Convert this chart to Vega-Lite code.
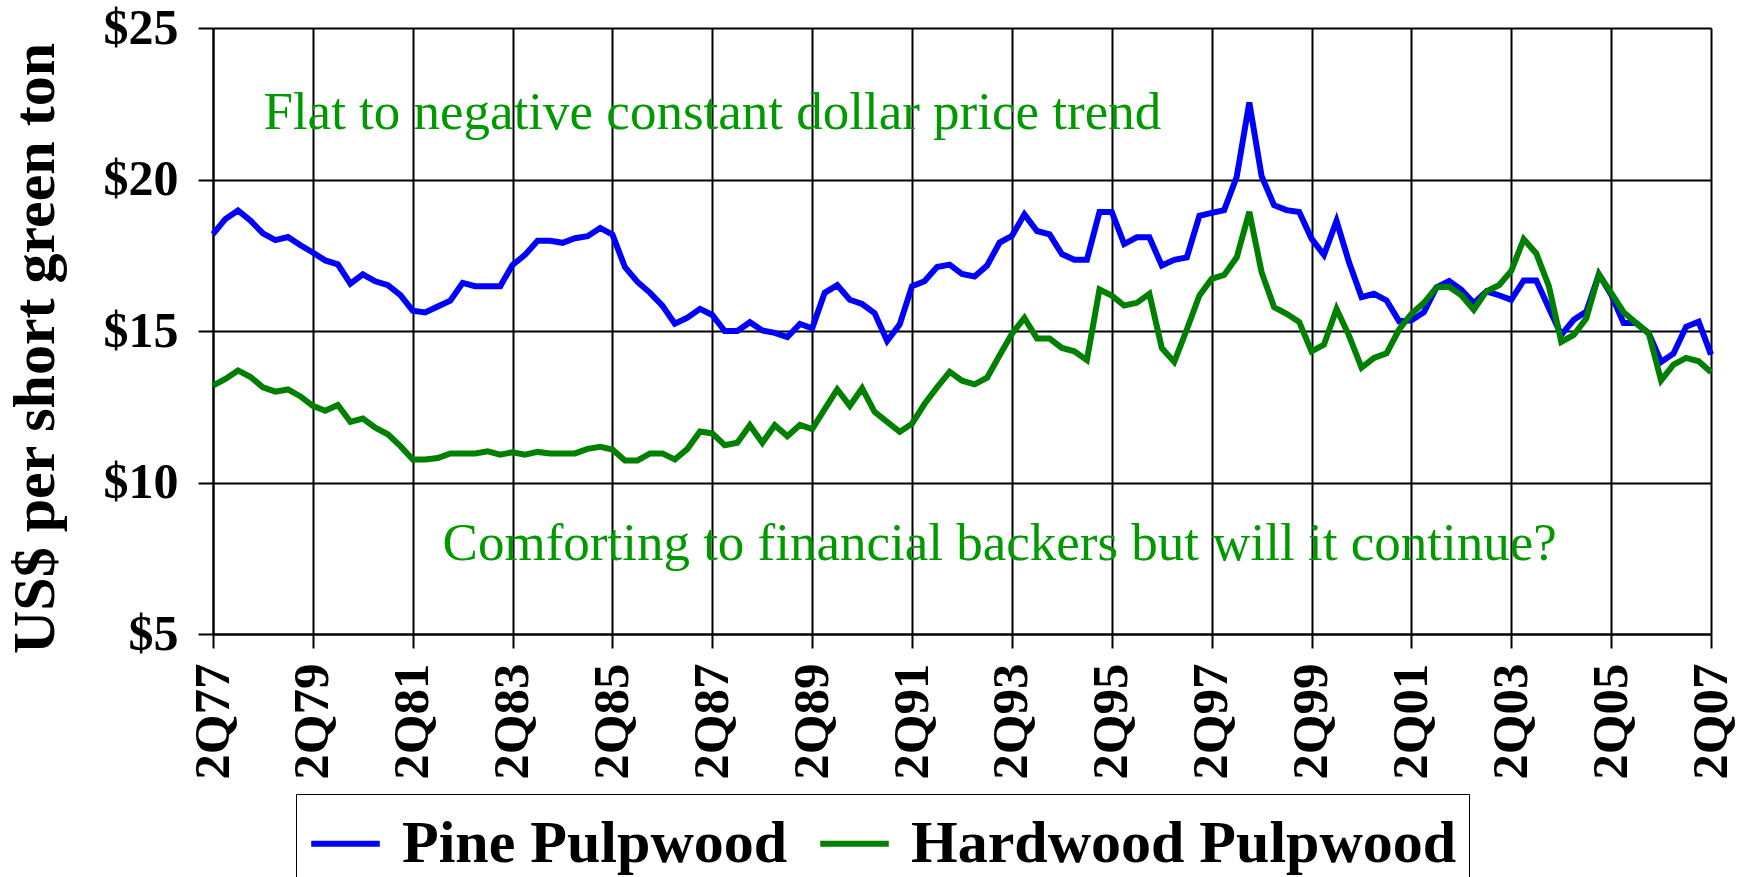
{
  "$schema": "https://vega.github.io/schema/vega-lite/v6.json",
  "width": 1498,
  "height": 606,
  "autosize": {"type": "none"},
  "padding": {"left": 213, "top": 28, "right": 28, "bottom": 243},
  "background": "white",
  "config": {
    "view": {"stroke": null},
    "font": "Liberation Serif"
  },
  "layer": [
    {
      "data": {"values": [
        {"date": "1977/04/01", "Pine Pulpwood": 18.2, "Hardwood Pulpwood": 13.2},
        {"date": "1977/07/01", "Pine Pulpwood": 18.7, "Hardwood Pulpwood": 13.42},
        {"date": "1977/10/01", "Pine Pulpwood": 18.98, "Hardwood Pulpwood": 13.7},
        {"date": "1978/01/01", "Pine Pulpwood": 18.64, "Hardwood Pulpwood": 13.48},
        {"date": "1978/04/01", "Pine Pulpwood": 18.22, "Hardwood Pulpwood": 13.14},
        {"date": "1978/07/01", "Pine Pulpwood": 18.0, "Hardwood Pulpwood": 13.0},
        {"date": "1978/10/01", "Pine Pulpwood": 18.1, "Hardwood Pulpwood": 13.07},
        {"date": "1979/01/01", "Pine Pulpwood": 17.83, "Hardwood Pulpwood": 12.84},
        {"date": "1979/04/01", "Pine Pulpwood": 17.59, "Hardwood Pulpwood": 12.53},
        {"date": "1979/07/01", "Pine Pulpwood": 17.33, "Hardwood Pulpwood": 12.37},
        {"date": "1979/10/01", "Pine Pulpwood": 17.2, "Hardwood Pulpwood": 12.56},
        {"date": "1980/01/01", "Pine Pulpwood": 16.56, "Hardwood Pulpwood": 12.0},
        {"date": "1980/04/01", "Pine Pulpwood": 16.87, "Hardwood Pulpwood": 12.11},
        {"date": "1980/07/01", "Pine Pulpwood": 16.64, "Hardwood Pulpwood": 11.81},
        {"date": "1980/10/01", "Pine Pulpwood": 16.51, "Hardwood Pulpwood": 11.59},
        {"date": "1981/01/01", "Pine Pulpwood": 16.18, "Hardwood Pulpwood": 11.2},
        {"date": "1981/04/01", "Pine Pulpwood": 15.67, "Hardwood Pulpwood": 10.76},
        {"date": "1981/07/01", "Pine Pulpwood": 15.61, "Hardwood Pulpwood": 10.76},
        {"date": "1981/10/01", "Pine Pulpwood": 15.81, "Hardwood Pulpwood": 10.81},
        {"date": "1982/01/01", "Pine Pulpwood": 16.0, "Hardwood Pulpwood": 10.96},
        {"date": "1982/04/01", "Pine Pulpwood": 16.59, "Hardwood Pulpwood": 10.96},
        {"date": "1982/07/01", "Pine Pulpwood": 16.48, "Hardwood Pulpwood": 10.96},
        {"date": "1982/10/01", "Pine Pulpwood": 16.48, "Hardwood Pulpwood": 11.03},
        {"date": "1983/01/01", "Pine Pulpwood": 16.48, "Hardwood Pulpwood": 10.92},
        {"date": "1983/04/01", "Pine Pulpwood": 17.18, "Hardwood Pulpwood": 11.0},
        {"date": "1983/07/01", "Pine Pulpwood": 17.51, "Hardwood Pulpwood": 10.92},
        {"date": "1983/10/01", "Pine Pulpwood": 17.98, "Hardwood Pulpwood": 11.01},
        {"date": "1984/01/01", "Pine Pulpwood": 17.98, "Hardwood Pulpwood": 10.96},
        {"date": "1984/04/01", "Pine Pulpwood": 17.91, "Hardwood Pulpwood": 10.96},
        {"date": "1984/07/01", "Pine Pulpwood": 18.06, "Hardwood Pulpwood": 10.96},
        {"date": "1984/10/01", "Pine Pulpwood": 18.13, "Hardwood Pulpwood": 11.11},
        {"date": "1985/01/01", "Pine Pulpwood": 18.4, "Hardwood Pulpwood": 11.18},
        {"date": "1985/04/01", "Pine Pulpwood": 18.18, "Hardwood Pulpwood": 11.09},
        {"date": "1985/07/01", "Pine Pulpwood": 17.11, "Hardwood Pulpwood": 10.73},
        {"date": "1985/10/01", "Pine Pulpwood": 16.62, "Hardwood Pulpwood": 10.73},
        {"date": "1986/01/01", "Pine Pulpwood": 16.26, "Hardwood Pulpwood": 10.96},
        {"date": "1986/04/01", "Pine Pulpwood": 15.84, "Hardwood Pulpwood": 10.96},
        {"date": "1986/07/01", "Pine Pulpwood": 15.24, "Hardwood Pulpwood": 10.76},
        {"date": "1986/10/01", "Pine Pulpwood": 15.44, "Hardwood Pulpwood": 11.11},
        {"date": "1987/01/01", "Pine Pulpwood": 15.73, "Hardwood Pulpwood": 11.68},
        {"date": "1987/04/01", "Pine Pulpwood": 15.53, "Hardwood Pulpwood": 11.62},
        {"date": "1987/07/01", "Pine Pulpwood": 15.0, "Hardwood Pulpwood": 11.23},
        {"date": "1987/10/01", "Pine Pulpwood": 15.0, "Hardwood Pulpwood": 11.31},
        {"date": "1988/01/01", "Pine Pulpwood": 15.29, "Hardwood Pulpwood": 11.89},
        {"date": "1988/04/01", "Pine Pulpwood": 15.02, "Hardwood Pulpwood": 11.31},
        {"date": "1988/07/01", "Pine Pulpwood": 14.94, "Hardwood Pulpwood": 11.89},
        {"date": "1988/10/01", "Pine Pulpwood": 14.8, "Hardwood Pulpwood": 11.53},
        {"date": "1989/01/01", "Pine Pulpwood": 15.23, "Hardwood Pulpwood": 11.9},
        {"date": "1989/04/01", "Pine Pulpwood": 15.09, "Hardwood Pulpwood": 11.76},
        {"date": "1989/07/01", "Pine Pulpwood": 16.26, "Hardwood Pulpwood": 12.42},
        {"date": "1989/10/01", "Pine Pulpwood": 16.51, "Hardwood Pulpwood": 13.07},
        {"date": "1990/01/01", "Pine Pulpwood": 16.03, "Hardwood Pulpwood": 12.53},
        {"date": "1990/04/01", "Pine Pulpwood": 15.89, "Hardwood Pulpwood": 13.11},
        {"date": "1990/07/01", "Pine Pulpwood": 15.59, "Hardwood Pulpwood": 12.33},
        {"date": "1990/10/01", "Pine Pulpwood": 14.67, "Hardwood Pulpwood": 12.0},
        {"date": "1991/01/01", "Pine Pulpwood": 15.22, "Hardwood Pulpwood": 11.67},
        {"date": "1991/04/01", "Pine Pulpwood": 16.48, "Hardwood Pulpwood": 11.94},
        {"date": "1991/07/01", "Pine Pulpwood": 16.64, "Hardwood Pulpwood": 12.59},
        {"date": "1991/10/01", "Pine Pulpwood": 17.11, "Hardwood Pulpwood": 13.14},
        {"date": "1992/01/01", "Pine Pulpwood": 17.19, "Hardwood Pulpwood": 13.65},
        {"date": "1992/04/01", "Pine Pulpwood": 16.88, "Hardwood Pulpwood": 13.36},
        {"date": "1992/07/01", "Pine Pulpwood": 16.8, "Hardwood Pulpwood": 13.24},
        {"date": "1992/10/01", "Pine Pulpwood": 17.16, "Hardwood Pulpwood": 13.46},
        {"date": "1993/01/01", "Pine Pulpwood": 17.92, "Hardwood Pulpwood": 14.2},
        {"date": "1993/04/01", "Pine Pulpwood": 18.14, "Hardwood Pulpwood": 14.91},
        {"date": "1993/07/01", "Pine Pulpwood": 18.85, "Hardwood Pulpwood": 15.43},
        {"date": "1993/10/01", "Pine Pulpwood": 18.3, "Hardwood Pulpwood": 14.75},
        {"date": "1994/01/01", "Pine Pulpwood": 18.19, "Hardwood Pulpwood": 14.75},
        {"date": "1994/04/01", "Pine Pulpwood": 17.54, "Hardwood Pulpwood": 14.44},
        {"date": "1994/07/01", "Pine Pulpwood": 17.35, "Hardwood Pulpwood": 14.33},
        {"date": "1994/10/01", "Pine Pulpwood": 17.35, "Hardwood Pulpwood": 14.04},
        {"date": "1995/01/01", "Pine Pulpwood": 18.93, "Hardwood Pulpwood": 16.37},
        {"date": "1995/04/01", "Pine Pulpwood": 18.93, "Hardwood Pulpwood": 16.17},
        {"date": "1995/07/01", "Pine Pulpwood": 17.87, "Hardwood Pulpwood": 15.84},
        {"date": "1995/10/01", "Pine Pulpwood": 18.09, "Hardwood Pulpwood": 15.93},
        {"date": "1996/01/01", "Pine Pulpwood": 18.09, "Hardwood Pulpwood": 16.23},
        {"date": "1996/04/01", "Pine Pulpwood": 17.16, "Hardwood Pulpwood": 14.44},
        {"date": "1996/07/01", "Pine Pulpwood": 17.35, "Hardwood Pulpwood": 13.98},
        {"date": "1996/10/01", "Pine Pulpwood": 17.43, "Hardwood Pulpwood": 15.05},
        {"date": "1997/01/01", "Pine Pulpwood": 18.8, "Hardwood Pulpwood": 16.17},
        {"date": "1997/04/01", "Pine Pulpwood": 18.9, "Hardwood Pulpwood": 16.72},
        {"date": "1997/07/01", "Pine Pulpwood": 18.99, "Hardwood Pulpwood": 16.85},
        {"date": "1997/10/01", "Pine Pulpwood": 20.09, "Hardwood Pulpwood": 17.43},
        {"date": "1998/01/01", "Pine Pulpwood": 22.54, "Hardwood Pulpwood": 18.93},
        {"date": "1998/04/01", "Pine Pulpwood": 20.11, "Hardwood Pulpwood": 16.94},
        {"date": "1998/07/01", "Pine Pulpwood": 19.15, "Hardwood Pulpwood": 15.79},
        {"date": "1998/10/01", "Pine Pulpwood": 18.99, "Hardwood Pulpwood": 15.57},
        {"date": "1999/01/01", "Pine Pulpwood": 18.93, "Hardwood Pulpwood": 15.3},
        {"date": "1999/04/01", "Pine Pulpwood": 18.05, "Hardwood Pulpwood": 14.33},
        {"date": "1999/07/01", "Pine Pulpwood": 17.51, "Hardwood Pulpwood": 14.55},
        {"date": "1999/10/01", "Pine Pulpwood": 18.63, "Hardwood Pulpwood": 15.73},
        {"date": "2000/01/01", "Pine Pulpwood": 17.26, "Hardwood Pulpwood": 14.84},
        {"date": "2000/04/01", "Pine Pulpwood": 16.12, "Hardwood Pulpwood": 13.79},
        {"date": "2000/07/01", "Pine Pulpwood": 16.23, "Hardwood Pulpwood": 14.11},
        {"date": "2000/10/01", "Pine Pulpwood": 16.01, "Hardwood Pulpwood": 14.26},
        {"date": "2001/01/01", "Pine Pulpwood": 15.32, "Hardwood Pulpwood": 15.05},
        {"date": "2001/04/01", "Pine Pulpwood": 15.35, "Hardwood Pulpwood": 15.57},
        {"date": "2001/07/01", "Pine Pulpwood": 15.62, "Hardwood Pulpwood": 15.93},
        {"date": "2001/10/01", "Pine Pulpwood": 16.44, "Hardwood Pulpwood": 16.44},
        {"date": "2002/01/01", "Pine Pulpwood": 16.65, "Hardwood Pulpwood": 16.46},
        {"date": "2002/04/01", "Pine Pulpwood": 16.36, "Hardwood Pulpwood": 16.18},
        {"date": "2002/07/01", "Pine Pulpwood": 15.92, "Hardwood Pulpwood": 15.7},
        {"date": "2002/10/01", "Pine Pulpwood": 16.31, "Hardwood Pulpwood": 16.31},
        {"date": "2003/01/01", "Pine Pulpwood": 16.18, "Hardwood Pulpwood": 16.51},
        {"date": "2003/04/01", "Pine Pulpwood": 16.03, "Hardwood Pulpwood": 16.98},
        {"date": "2003/07/01", "Pine Pulpwood": 16.67, "Hardwood Pulpwood": 18.03},
        {"date": "2003/10/01", "Pine Pulpwood": 16.67, "Hardwood Pulpwood": 17.56},
        {"date": "2004/01/01", "Pine Pulpwood": 15.76, "Hardwood Pulpwood": 16.48},
        {"date": "2004/04/01", "Pine Pulpwood": 14.87, "Hardwood Pulpwood": 14.64},
        {"date": "2004/07/01", "Pine Pulpwood": 15.37, "Hardwood Pulpwood": 14.87},
        {"date": "2004/10/01", "Pine Pulpwood": 15.64, "Hardwood Pulpwood": 15.42},
        {"date": "2005/01/01", "Pine Pulpwood": 16.87, "Hardwood Pulpwood": 16.87},
        {"date": "2005/04/01", "Pine Pulpwood": 16.2, "Hardwood Pulpwood": 16.26},
        {"date": "2005/07/01", "Pine Pulpwood": 15.26, "Hardwood Pulpwood": 15.62},
        {"date": "2005/10/01", "Pine Pulpwood": 15.26, "Hardwood Pulpwood": 15.26},
        {"date": "2006/01/01", "Pine Pulpwood": 14.92, "Hardwood Pulpwood": 14.92},
        {"date": "2006/04/01", "Pine Pulpwood": 13.98, "Hardwood Pulpwood": 13.37},
        {"date": "2006/07/01", "Pine Pulpwood": 14.26, "Hardwood Pulpwood": 13.89},
        {"date": "2006/10/01", "Pine Pulpwood": 15.14, "Hardwood Pulpwood": 14.11},
        {"date": "2007/01/01", "Pine Pulpwood": 15.31, "Hardwood Pulpwood": 14.0},
        {"date": "2007/04/01", "Pine Pulpwood": 14.22, "Hardwood Pulpwood": 13.64}
      ]},
      "transform": [{"fold": ["Pine Pulpwood", "Hardwood Pulpwood"], "as": ["series", "price"]}],
      "mark": {"type": "line", "strokeWidth": 6},
      "encoding": {
        "x": {
          "field": "date", "type": "temporal",
          "scale": {"domain": [{"year": 1977, "month": 4, "date": 1}, {"year": 2007, "month": 4, "date": 1}], "nice": false},
          "axis": {
            "title": null,
            "values": [
              {"year": 1977, "month": 4, "date": 1}, {"year": 1979, "month": 4, "date": 1},
              {"year": 1981, "month": 4, "date": 1}, {"year": 1983, "month": 4, "date": 1},
              {"year": 1985, "month": 4, "date": 1}, {"year": 1987, "month": 4, "date": 1},
              {"year": 1989, "month": 4, "date": 1}, {"year": 1991, "month": 4, "date": 1},
              {"year": 1993, "month": 4, "date": 1}, {"year": 1995, "month": 4, "date": 1},
              {"year": 1997, "month": 4, "date": 1}, {"year": 1999, "month": 4, "date": 1},
              {"year": 2001, "month": 4, "date": 1}, {"year": 2003, "month": 4, "date": 1},
              {"year": 2005, "month": 4, "date": 1}, {"year": 2007, "month": 4, "date": 1}
            ],
            "format": "%qQ%y", "formatType": "time",
            "labelAngle": -90, "labelAlign": "right", "labelBaseline": "middle",
            "labelFont": "Liberation Serif", "labelFontWeight": "bold", "labelFontSize": 51, "labelColor": "black",
            "labelPadding": 15, "labelOverlap": false, "labelFlush": false, "labelBound": false,
            "tickColor": "black", "tickSize": 14, "tickWidth": 2,
            "domainColor": "black", "domainWidth": 2,
            "grid": true, "gridColor": "black", "gridWidth": 2, "gridOpacity": 1
          }
        },
        "y": {
          "field": "price", "type": "quantitative",
          "scale": {"domain": [5, 25], "nice": false, "zero": false},
          "axis": {
            "values": [5, 10, 15, 20, 25],
            "labelExpr": "'$' + datum.label",
            "labelFont": "Liberation Serif", "labelFontWeight": "bold", "labelFontSize": 50, "labelColor": "black",
            "labelPadding": 20, "labelFlush": false, "labelBound": false, "labelOverlap": false,
            "tickColor": "black", "tickSize": 15, "tickWidth": 2,
            "domainColor": "black", "domainWidth": 2,
            "grid": true, "gridColor": "black", "gridWidth": 2, "gridOpacity": 1,
            "title": "US$ per short green ton",
            "titleFont": "Liberation Serif", "titleFontWeight": "bold", "titleFontSize": 60, "titleColor": "black",
            "titleLimit": 1000, "titlePadding": 37, "titleY": 320
          }
        },
        "color": {
          "field": "series", "type": "nominal",
          "scale": {"domain": ["Pine Pulpwood", "Hardwood Pulpwood"], "range": ["#0000ff", "#008000"]},
          "legend": {
            "title": null, "orient": "none", "direction": "horizontal",
            "legendX": 83, "legendY": 766,
            "labelFont": "Liberation Serif", "labelFontWeight": "bold", "labelFontSize": 60, "labelColor": "black",
            "labelLimit": 1000, "labelOffset": 19, "columnPadding": 20,
            "symbolType": "stroke", "symbolSize": 4700, "symbolStrokeWidth": 6,
            "strokeColor": "black", "padding": 12
          }
        }
      }
    },
    {
      "data": {"values": [
        {"date": "1987/04/01", "price": 21.66, "note": "Flat to negative constant dollar price trend"},
        {"date": "1993/01/01", "price": 7.45, "note": "Comforting to financial backers but will it continue?"}
      ]},
      "mark": {"type": "text", "font": "Liberation Serif", "fontSize": 53, "color": "#009900", "align": "center", "baseline": "alphabetic"},
      "encoding": {
        "x": {"field": "date", "type": "temporal"},
        "y": {"field": "price", "type": "quantitative"},
        "text": {"field": "note"}
      }
    }
  ]
}
